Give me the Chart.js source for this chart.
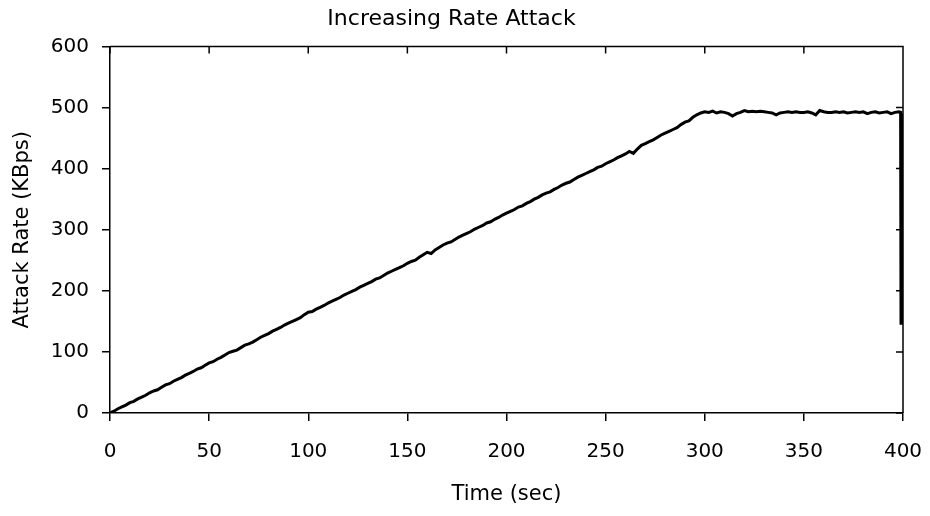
<!DOCTYPE html>
<html>
<head>
<meta charset="utf-8">
<script src="https://cdn.jsdelivr.net/npm/chart.js@4"></script>
<style>
  html, body { margin: 0; padding: 0; background: #fff; }
  #wrap { width: 930px; height: 516px; }
</style>
</head>
<body>
<div id="wrap"><canvas id="myChart"></canvas></div>
<script>
// values, one every 2 seconds from t = 0 to t = 398
const sampleStep = 2;
const rate = [
  0, 3, 7, 10, 13, 17, 19, 23, 26, 29,
  33, 36, 38, 42, 46, 48, 52, 55, 58, 62,
  65, 68, 72, 74, 78, 82, 84, 88, 91, 95,
  99, 101, 103, 107, 111, 113, 116, 120, 124, 127,
  130, 134, 137, 140, 144, 147, 150, 153, 156, 161,
  165, 166, 170, 173, 176, 180, 183, 186, 189, 193,
  196, 199, 202, 206, 209, 212, 215, 219, 221, 225,
  229, 232, 235, 238, 241, 245, 248, 250, 255, 259,
  263, 261, 267, 271, 275, 278, 280, 284, 288, 291,
  294, 297, 301, 304, 307, 311, 313, 317, 320, 324,
  327, 330, 333, 337, 339, 343, 346, 350, 353, 357,
  360, 362, 366, 369, 373, 376, 378, 382, 386, 389,
  392, 395, 398, 402, 404, 408, 411, 414, 418, 421,
  424, 428, 425, 432, 438, 441, 444, 447, 451, 455,
  458, 461, 464, 467, 472, 476, 478, 484, 488, 491,
  493, 492, 494, 491, 493, 492, 490, 486, 490, 492,
  495, 493, 494, 493, 494, 493, 492, 491, 488, 491,
  492, 493, 492, 493, 492, 492, 493, 491, 488, 495,
  493, 492, 492, 493, 492, 493, 491, 492, 493, 492,
  493, 490, 492, 493, 491, 492, 493, 490, 492, 493
];
// the sudden drop at the very end (drawn as a thick bundle of strokes)
const dropTimes = [398.8, 399.0, 399.2, 399.4, 399.6, 399.8];
const dropRate = [492, 147, 490, 150, 488, 146];

const xTicks = [0, 50, 100, 150, 200, 250, 300, 350, 400];
const yTicks = [0, 100, 200, 300, 400, 500, 600];

const points = rate.map((v, i) => ({ x: i * sampleStep, y: v }));
dropTimes.forEach((t, i) => points.push({ x: t, y: dropRate[i] }));

const FONT = "'DejaVu Sans', sans-serif";
const INK = '#000';

// top and right edges of the box, with their little inward ticks
const frame = {
  id: 'frame',
  afterDraw(chart) {
    const { ctx, chartArea: a, scales } = chart;
    ctx.save();
    ctx.strokeStyle = INK;
    ctx.lineWidth = 1.5;
    ctx.beginPath();
    ctx.moveTo(a.left, a.top);
    ctx.lineTo(a.right, a.top);
    ctx.lineTo(a.right, a.bottom);
    xTicks.forEach(t => {
      const px = scales.x.getPixelForValue(t);
      ctx.moveTo(px, a.top);
      ctx.lineTo(px, a.top + 7);
    });
    yTicks.forEach(t => {
      const py = scales.y.getPixelForValue(t);
      ctx.moveTo(a.right, py);
      ctx.lineTo(a.right - 7, py);
    });
    ctx.stroke();
    ctx.restore();
  }
};

const ctx = document.getElementById('myChart');

new Chart(ctx, {
  type: 'line',
  data: {
    datasets: [{
      data: points,
      borderColor: INK,
      borderWidth: 3,
      pointRadius: 0,
      tension: 0
    }]
  },
  options: {
    animation: false,
    responsive: true,
    maintainAspectRatio: false,
    layout: { padding: { left: 0, right: 27, top: 0, bottom: 0 } },
    plugins: {
      legend: { display: false },
      tooltip: { enabled: false },
      title: {
        display: true,
        text: 'Increasing Rate Attack',
        color: INK,
        font: { family: FONT, size: 22, weight: 'normal' },
        padding: { top: 6, bottom: 14 }
      }
    },
    scales: {
      x: {
        type: 'linear',
        min: 0,
        max: 400,
        afterBuildTicks: s => { s.ticks = xTicks.map(v => ({ value: v })); },
        afterFit: s => { s.height = 103; s.paddingLeft = 0; s.paddingRight = 0; },
        ticks: { color: INK, font: { family: FONT, size: 20 }, padding: 19, maxRotation: 0 },
        grid: { drawOnChartArea: false, drawTicks: true, tickLength: 8, color: INK, lineWidth: 1.5 },
        border: { display: true, color: INK, width: 1.5 },
        title: {
          display: true,
          text: 'Time (sec)',
          color: INK,
          font: { family: FONT, size: 21 },
          padding: { top: 0, bottom: 9 }
        }
      },
      y: {
        min: 0,
        max: 600,
        afterBuildTicks: s => { s.ticks = yTicks.map(v => ({ value: v })); },
        afterFit: s => { s.width = 110; s.paddingTop = 0; s.paddingBottom = 0; },
        ticks: { color: INK, font: { family: FONT, size: 20 }, padding: 13 },
        grid: { drawOnChartArea: false, drawTicks: true, tickLength: 8, color: INK, lineWidth: 1.5 },
        border: { display: true, color: INK, width: 1.5 },
        title: {
          display: true,
          text: 'Attack Rate (KBps)',
          color: INK,
          font: { family: FONT, size: 21 },
          padding: { top: 10, bottom: 0 }
        }
      }
    }
  },
  plugins: [frame]
});
</script>
</body>
</html>
